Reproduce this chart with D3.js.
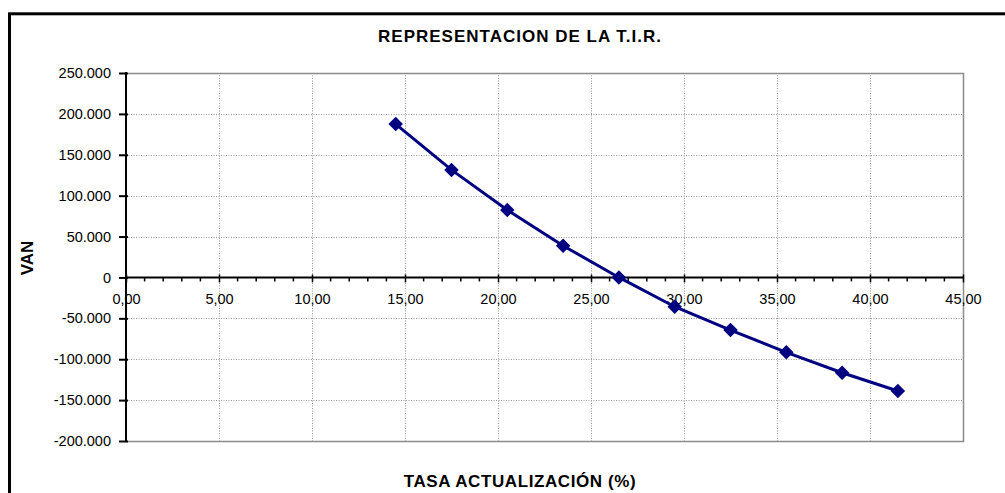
<!DOCTYPE html>
<html><head><meta charset="utf-8">
<script src="https://cdn.jsdelivr.net/npm/d3@7"></script>
<style>
html,body{margin:0;padding:0;background:#fff;overflow:hidden;}
svg{display:block;font-family:"Liberation Sans",Arial,sans-serif;}
</style></head>
<body>
<svg id="c" width="1005" height="493"></svg>
<script>
// Data
const tasa = [14.5, 17.5, 20.5, 23.5, 26.5, 29.5, 32.5, 35.5, 38.5, 41.5];
const van = [187500, 131500, 82500, 38800, 0, -35800, -64300, -91600, -116500, -138800];
const xTicks = [0, 5, 10, 15, 20, 25, 30, 35, 40, 45];
const yTicks = [250000, 200000, 150000, 100000, 50000, 0, -50000, -100000, -150000, -200000];
const title = "REPRESENTACION DE LA T.I.R.";
const xTitle = "TASA ACTUALIZACIÓN (%)";
const yTitle = "VAN";

const loc = d3.formatLocale({decimal: ",", thousands: ".", grouping: [3], currency: ["", ""], minus: "-"});

const svg = d3.select("#c");
const L = 126, R = 963, T = 73, B = 441;
const x = d3.scaleLinear().domain([0, 45]).range([L, R]);
const y = d3.scaleLinear().domain([-200000, 250000]).range([B, T]);

// outer frame
svg.append("rect").attr("x", 9.5).attr("y", 13.8).attr("width", 1100).attr("height", 600)
  .attr("fill", "#fff").attr("stroke", "#000").attr("stroke-width", 3);

// title
svg.append("text").attr("x", 520).attr("y", 41.5).attr("text-anchor", "middle")
  .attr("font-size", 17).attr("font-weight", "bold").attr("letter-spacing", 1)
  .text(title);

// gridlines
const grid = svg.append("g").attr("stroke", "#9a9a9a").attr("stroke-width", 1)
  .attr("stroke-dasharray", "1,1.5");
yTicks.filter(v => v !== 0 && v !== 250000 && v !== -200000).forEach(v => {
  grid.append("line").attr("x1", L).attr("x2", R).attr("y1", Math.round(y(v)) + 0.5).attr("y2", Math.round(y(v)) + 0.5);
});
xTicks.filter(v => v !== 0 && v !== 45).forEach(v => {
  grid.append("line").attr("x1", Math.round(x(v)) + 0.5).attr("x2", Math.round(x(v)) + 0.5).attr("y1", T).attr("y2", B);
});

// plot border (gray)
svg.append("path").attr("d", `M${L},${T + 0.5}H${R + 0.5}V${B + 0.5}H${L}`)
  .attr("fill", "none").attr("stroke", "#8c8c8c").attr("stroke-width", 1.5);

// y axis
const yAxis = d3.axisLeft(y).tickValues(yTicks).tickSize(6).tickPadding(8)
  .tickFormat(loc.format(",d"));
const gy = svg.append("g").attr("transform", `translate(${L},0)`).call(yAxis);
gy.select(".domain").remove();
gy.selectAll(".tick line").attr("stroke", "#000").attr("stroke-width", 2).attr("x2", -7).attr("x1", 2);
gy.selectAll(".tick text").attr("font-size", 14.5).attr("fill", "#000").attr("x", -15)
  .attr("font-family", "'Liberation Sans', Arial, sans-serif");
svg.append("line").attr("x1", L).attr("x2", L).attr("y1", T - 1).attr("y2", B + 1)
  .attr("stroke", "#000").attr("stroke-width", 2);

// x axis at y=0
const y0 = y(0);
const xAxis = d3.axisBottom(x).tickValues(xTicks).tickSize(5).tickPadding(11)
  .tickFormat(loc.format(".2f"));
const gx = svg.append("g").attr("transform", `translate(0,${y0})`).call(xAxis);
gx.select(".domain").remove();
gx.selectAll(".tick line").attr("stroke", "#000").attr("stroke-width", 1.5).attr("y1", -3).attr("y2", 5);
gx.selectAll(".tick text").attr("font-size", 14.5).attr("fill", "#000")
  .attr("font-family", "'Liberation Sans', Arial, sans-serif");
// minor ticks
const minor = d3.range(0, 46).filter(v => v % 5 !== 0);
gx.selectAll(".minor").data(minor).enter().append("line")
  .attr("x1", d => x(d)).attr("x2", d => x(d)).attr("y1", 0).attr("y2", 4)
  .attr("stroke", "#000").attr("stroke-width", 1.5);
svg.append("line").attr("x1", L).attr("x2", R).attr("y1", y0).attr("y2", y0)
  .attr("stroke", "#000").attr("stroke-width", 2);

// line + markers
const pts = tasa.map((t, i) => [t, van[i]]);
svg.append("path").datum(pts)
  .attr("d", d3.line().x(d => x(d[0])).y(d => y(d[1])))
  .attr("fill", "none").attr("stroke", "#000080").attr("stroke-width", 3);
svg.selectAll(".mk").data(pts).enter().append("path")
  .attr("d", d3.symbol().type(d3.symbolSquare).size(105))
  .attr("transform", d => `translate(${x(d[0])},${y(d[1])}) rotate(45)`)
  .attr("fill", "#000080");

// axis titles
svg.append("text").attr("x", 520).attr("y", 487).attr("text-anchor", "middle")
  .attr("font-size", 17).attr("font-weight", "bold").attr("letter-spacing", 0.6)
  .text(xTitle);
svg.append("text").attr("transform", "translate(33,258) rotate(-90)").attr("text-anchor", "middle")
  .attr("font-size", 17).attr("font-weight", "bold")
  .text(yTitle);
</script>
</body></html>
